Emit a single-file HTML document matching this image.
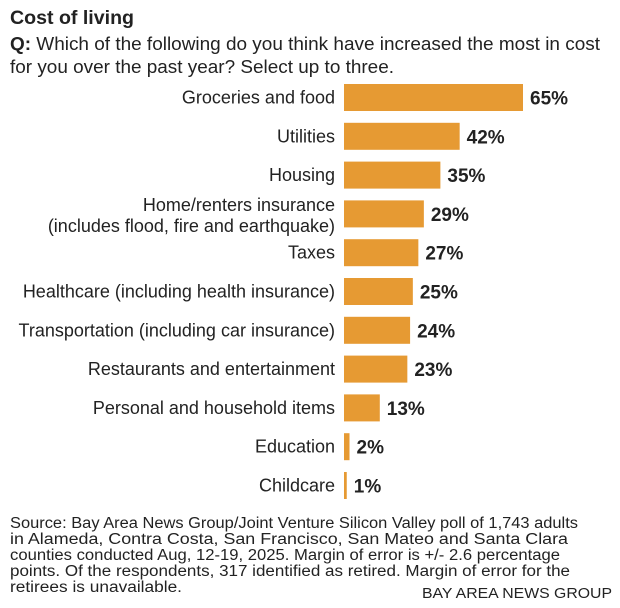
<!DOCTYPE html>
<html><head><meta charset="utf-8"><style>
body{margin:0;background:#fff;width:620px;height:603px;overflow:hidden;font-family:"Liberation Sans",sans-serif;color:#222}
svg text{font-family:"Liberation Sans",sans-serif}
</style></head><body>
<svg width="620" height="603">
<text x="10" y="24" font-size="19" font-weight="bold" fill="#222" textLength="124" lengthAdjust="spacingAndGlyphs">Cost of living</text>
<text x="10" y="50" font-size="18" fill="#222" textLength="590" lengthAdjust="spacingAndGlyphs"><tspan font-weight="bold">Q:</tspan> Which of the following do you think have increased the most in cost</text>
<text x="10" y="73" font-size="18" fill="#222" textLength="384" lengthAdjust="spacingAndGlyphs">for you over the past year? Select up to three.</text>
<g id="bars"></g>
<g font-size="15.5" fill="#222">
<text x="10" y="528" textLength="568" lengthAdjust="spacingAndGlyphs">Source: Bay Area News Group/Joint Venture Silicon Valley poll of 1,743 adults</text>
<text x="10" y="544" textLength="558" lengthAdjust="spacingAndGlyphs">in Alameda, Contra Costa, San Francisco, San Mateo and Santa Clara</text>
<text x="10" y="560" textLength="550" lengthAdjust="spacingAndGlyphs">counties conducted Aug, 12-19, 2025. Margin of error is +/- 2.6 percentage</text>
<text x="10" y="576" textLength="560" lengthAdjust="spacingAndGlyphs">points. Of the respondents, 317 identified as retired. Margin of error for the</text>
<text x="10" y="592" textLength="172" lengthAdjust="spacingAndGlyphs">retirees is unavailable.</text>
</g>
<text x="612" y="598" font-size="14.5" text-anchor="end" fill="#222" textLength="190" lengthAdjust="spacingAndGlyphs">BAY AREA NEWS GROUP</text>
</svg>
<script>
const categories=["Groceries and food","Utilities","Housing","Home/renters insurance|(includes flood, fire and earthquake)","Taxes","Healthcare (including health insurance)","Transportation (including car insurance)","Restaurants and entertainment","Personal and household items","Education","Childcare"];
const values=[65,42,35,29,27,25,24,23,13,2,1];
const valueLabels=["65%","42%","35%","29%","27%","25%","24%","23%","13%","2%","1%"];
const NS="http://www.w3.org/2000/svg";
const g=document.getElementById("bars");
const x0=344, pxPer=179/65, y0=97.5, pitch=38.8, bh=27;
function xs(v){return x0+v*pxPer;}
function yc(i){return y0+i*pitch;}
categories.forEach((c,i)=>{
  const r=document.createElementNS(NS,"rect");
  r.setAttribute("x",x0);r.setAttribute("y",yc(i)-bh/2);
  r.setAttribute("width",xs(values[i])-x0);r.setAttribute("height",bh);
  r.setAttribute("fill","#e69a33");
  
  
  g.appendChild(r);
  const v=document.createElementNS(NS,"text");
  v.setAttribute("x",xs(values[i])+7);v.setAttribute("y",yc(i)+7);
  v.setAttribute("font-size","19");v.setAttribute("font-weight","bold");v.setAttribute("fill","#222");
  v.textContent=valueLabels[i];
  
  
  g.appendChild(v);
  const lines=c.split("|");
  lines.forEach((ln,k)=>{
    const t=document.createElementNS(NS,"text");
    t.setAttribute("x",335);
    const off=lines.length===1?6:(k===0?-3:18);
    t.setAttribute("y",yc(i)+off);
    t.setAttribute("font-size","18");t.setAttribute("text-anchor","end");t.setAttribute("fill","#222");
    t.textContent=ln;
    
    
    g.appendChild(t);
  });
});
</script>
</body></html>
